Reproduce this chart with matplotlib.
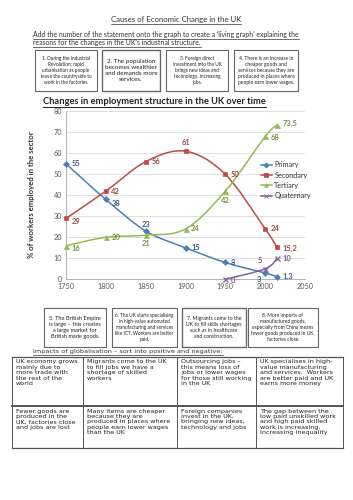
import matplotlib
matplotlib.use("Agg")
import matplotlib.pyplot as plt
from matplotlib.path import Path
from matplotlib.patches import PathPatch, Rectangle
from matplotlib.lines import Line2D
import numpy as np

# ---------------- data ----------------
years = [1750, 1800, 1850, 1900, 1950, 2000, 2015]
primary = [55, 38, 23, 15, 8, 3, 1.3]
secondary = [29, 42, 56, 61, 50, 24, 15.2]
tertiary = [16, 20, 21, 24, 42, 68, 73.5]
quat_years = [1950, 2000, 2015]
quaternary = [0, 5, 10]

primary_labels = ["55", "38", "23", "15", "8", "3", "1,3"]
secondary_labels = ["29", "42", "56", "61", "50", "24", "15,2"]
tertiary_labels = ["16", "20", "21", "24", "42", "68", "73,5"]
quat_labels = ["0", "5", "10"]

x_ticks = [1750, 1800, 1850, 1900, 1950, 2000, 2050]
y_ticks = [0, 10, 20, 30, 40, 50, 60, 70, 80]

top_boxes = [
    "1. During the Industrial\nRevolution; rapid\nurbanisation as people\nleave the countryside to\nwork in the factories.",
    "2. The population\nbecomes wealthier\nand demands more\nservices.",
    "3. Foreign direct\ninvestment into the UK\nbrings new ideas and\ntechnology, increasing\njobs.",
    "4. There is an increase in\ncheaper goods and\nservices because they are\nproduced in places where\npeople earn lower wages.",
]
bottom_boxes = [
    "5. The British Empire\nis large \u2013 this creates\na large market for\nBritish made goods.",
    "6. The UK starts specialising\nin high-value automated\nmanufacturing and services\nlike ICT. Workers are better\npaid.",
    "7. Migrants come to the\nUK to fill skills shortages\nsuch as in healthcare\nand construction.",
    "8. More imports of\nmanufactured goods,\nespecially from China means\nfewer goods produced in UK,\nfactories close.",
]
table_row1 = [
    "UK economy grows\nmainly due to\nmore trade with\nthe rest of the\nworld",
    "Migrants come to the UK\nto fill jobs we have a\nshortage of skilled\nworkers",
    "Outsourcing jobs \u2013\nthis means loss of\njobs or lower wages\nfor those still working\nin the UK",
    "UK specialises in high-\nvalue manufacturing\nand services.  Workers\nare better paid and UK\nearns more money",
]
table_row2 = [
    "Fewer goods are\nproduced in the\nUK, factories close\nand jobs are lost",
    "Many items are cheaper\nbecause they are\nproduced in places where\npeople earn lower wages\nthan the UK",
    "Foreign companies\ninvest in the UK,\nbringing new ideas,\ntechnology and jobs",
    "The gap between the\nlow paid unskilled work\nand high paid skilled\nwork is increasing,\nincreasing inequality",
]

# ---------------- figure ----------------
W, H = 353, 500
fig = plt.figure(figsize=(W / 100, H / 100), dpi=100)
fig.patch.set_facecolor("white")
renderer = fig.canvas.get_renderer()


def fx(x):
    return x / W


def fy(y):
    return 1 - y / H


def underlined(x, y, s, size, ha="left", weight="normal", family="DejaVu Sans", color="#333333", lw=0.5):
    t = fig.text(fx(x), fy(y), s, fontsize=size, ha=ha, va="baseline", weight=weight,
                 family=family, color=color)
    bb = t.get_window_extent(renderer=renderer)
    yline = bb.y0 - 1.0
    fig.add_artist(Line2D([bb.x0 / W, bb.x1 / W], [yline / H, yline / H], transform=fig.transFigure,
                          color=color, lw=lw))
    return t


def box(x0, y0, x1, y1, text, size, lw=0.8, ec="#666666", family="Lato"):
    fig.add_artist(Rectangle((fx(x0), fy(y1)), (x1 - x0) / W, (y1 - y0) / H, transform=fig.transFigure,
                             fill=False, ec=ec, lw=lw))
    fig.text(fx((x0 + x1) / 2), fy((y0 + y1) / 2), text, ha="center", va="center", fontsize=size,
             family=family, color="#222222", linespacing=1.25)


# title + instructions
underlined(176, 22, "Causes of Economic Change in the UK", 5.6, ha="center", family="Lato")
underlined(33, 37, "Add the number of the statement onto the graph to create a \u2018living graph\u2019 explaining the",
           4.95, family="Lato")
underlined(33, 45, "reasons for the changes in the UK\u2019s industrial structure.", 4.95, family="Lato")

# top boxes
top_pos = [(35, 97), (102, 160), (166, 228), (234, 298)]
top_sizes = [3.4, 4.5, 3.4, 3.6]
top_lw = [0.8, 1.0, 0.8, 0.8]
for (a, b), t, s, l in zip(top_pos, top_boxes, top_sizes, top_lw):
    box(a, 50, b, 91, t, s, lw=l)

# bottom boxes
bot_pos = [(44, 106), (112, 177), (182, 246), (248, 318)]
bot_sizes = [4.1, 3.45, 3.7, 3.5]
bot_lw = [0.8, 0.8, 1.0, 0.8]
for (a, b), t, s, l in zip(bot_pos, bottom_boxes, bot_sizes, bot_lw):
    box(a, 308, b, 347, t, s, lw=l)

underlined(33, 353, "Impacts of globalisation \u2013 sort into positive and negative:", 4.65, family="DejaVu Sans")

# table
tx = [12, 83, 177, 256, 343]
ty = [357, 406, 448]
tcol = "#555555"
for x in tx:
    fig.add_artist(Line2D([fx(x), fx(x)], [fy(ty[0]), fy(ty[2])], transform=fig.transFigure, color=tcol, lw=0.7))
for y, l in zip(ty, [0.9, 1.4, 0.9]):
    fig.add_artist(Line2D([fx(tx[0]), fx(tx[-1])], [fy(y), fy(y)], transform=fig.transFigure, color=tcol, lw=l))
for row, y0 in [(table_row1, ty[0]), (table_row2, ty[1])]:
    for i, txt in enumerate(row):
        fig.text(fx(tx[i] + 4), fy(y0 + 2.5), txt, ha="left", va="top", fontsize=4.6,
                 family="DejaVu Sans", color="#222222", linespacing=1.12)

# ---------------- chart ----------------
ax_l, ax_r, ax_t, ax_b = 66, 305, 111.3, 279.3
ax = fig.add_axes([fx(ax_l), fy(ax_b), (ax_r - ax_l) / W, (ax_b - ax_t) / H])
ax.set_xlim(1750, 2050)
ax.set_ylim(0, 80)
ax.set_xticks(x_ticks)
ax.set_yticks(y_ticks)
ax.tick_params(labelsize=5.2, colors="#595959", length=0, pad=3)
for lab in ax.get_xticklabels() + ax.get_yticklabels():
    lab.set_family("Lato")
ax.grid(axis="y", color="#d9d9d9", lw=0.6)
ax.set_axisbelow(True)
for sp in ["top", "right"]:
    ax.spines[sp].set_visible(False)
ax.spines["left"].set_color("#a6a6a6")
ax.spines["bottom"].set_color("#a6a6a6")
ax.spines["left"].set_lw(0.6)
ax.spines["bottom"].set_lw(0.6)

fig.text(fx(32), fy(195), "% of workers employed in the sector", rotation=90, ha="center", va="center",
         fontsize=5.6, weight="bold", family="Lato", color="#333333")
underlined(43, 104, "Changes in employment structure in the UK over time", 6.65, weight="bold",
           family="Lato", color="#222222", lw=0.7)


def smooth_path(xs, ys):
    xs = np.asarray(xs, float)
    ys = np.asarray(ys, float)
    n = len(xs)
    verts = [(xs[0], ys[0])]
    codes = [Path.MOVETO]
    for i in range(n - 1):
        p0 = np.array([xs[max(i - 1, 0)], ys[max(i - 1, 0)]])
        p1 = np.array([xs[i], ys[i]])
        p2 = np.array([xs[i + 1], ys[i + 1]])
        p3 = np.array([xs[min(i + 2, n - 1)], ys[min(i + 2, n - 1)]])
        c1 = p1 + (p2 - p0) / 6.0
        c2 = p2 - (p3 - p1) / 6.0
        verts += [tuple(c1), tuple(c2), tuple(p2)]
        codes += [Path.CURVE4] * 3
    return Path(verts, codes)


series = [
    ("Primary", years, primary, primary_labels, "#4a7ebb", "#2f4f78", "D", 3.0,
     [(4, 0), (4, -3), (0, 5), (4, 0), (4, 0), (-3, -5), (4, 0)],
     ["left", "left", "center", "left", "left", "right", "left"]),
    ("Secondary", years, secondary, secondary_labels, "#be4b48", "#953735", "s", 3.4,
     [(4, -2), (4, 0), (4, 0), (0, 6), (4, 0), (4, 0), (4, -1)],
     ["left", "left", "left", "center", "left", "left", "left"]),
    ("Tertiary", years, tertiary, tertiary_labels, "#98b954", "#6e8a32", "^", 3.6,
     [(4, -2), (4, 0), (0, -6), (4, 0), (0, -7), (4, -1), (4, 1)],
     ["left", "left", "center", "left", "center", "left", "left"]),
    ("Quaternary", quat_years, quaternary, quat_labels, "#7d60a0", "#6a4a90", "x", 3.6,
     [(4, -1), (-2, 6), (4, 0)],
     ["left", "right", "left"]),
]

handles = []
for name, xs, ys, labs, col, lcol, mk, ms, offs, has in series:
    ax.add_patch(PathPatch(smooth_path(xs, ys), fill=False, ec=col, lw=1.1, clip_on=False))
    ax.plot(xs, ys, ls="none", marker=mk, color=col, ms=ms, mew=0.9 if mk == "x" else 0.5,
            clip_on=False, zorder=3)
    for xv, yv, lab, off, ha in zip(xs, ys, labs, offs, has):
        ax.annotate(lab, (xv, yv), xytext=off, textcoords="offset points", ha=ha, va="center",
                    fontsize=5.4, color=lcol, family="Lato", weight="semibold")
    handles.append(Line2D([0], [0], color=col, lw=1.1, marker=mk, ms=2.5, mew=0.6))

leg = fig.legend(handles, [s[0] for s in series], loc="upper left", bbox_to_anchor=(fx(254), fy(155)),
                 frameon=False, handlelength=1.6, handletextpad=0.3, labelspacing=0.45,
                 prop={"family": "Lato", "size": 5.2})
for t in leg.get_texts():
    t.set_color("#333333")

fig.savefig("out.png", dpi=100, facecolor="white")
